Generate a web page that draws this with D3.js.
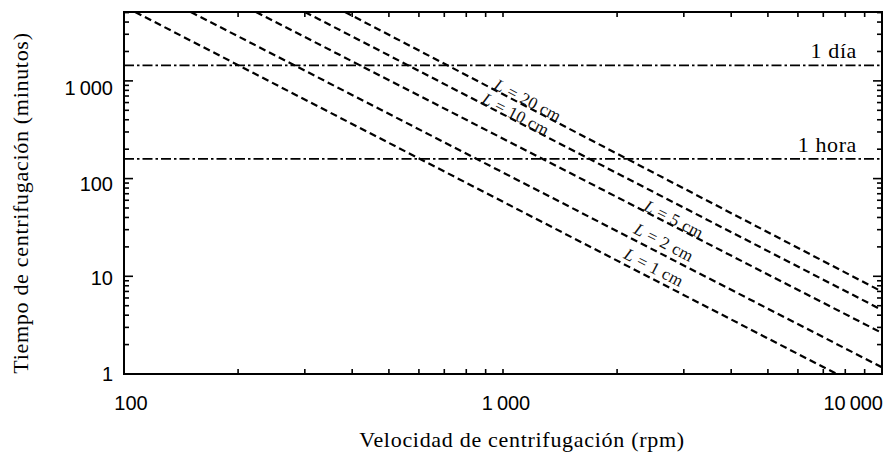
<!DOCTYPE html>
<html><head><meta charset="utf-8">
<script src="https://cdn.jsdelivr.net/npm/d3@7"></script>
<style>body{margin:0;background:#fff}svg{display:block}</style>
</head><body>
<svg id="chart" width="895" height="454"></svg>
<script>
// ---- data ----
const xTickValues = [100, 1000, 10000];
const xTickLabels = ["100", "1\u2009000", "10\u2009000"];
const yTickValues = [1, 10, 100, 1000];
const yTickLabels = ["1", "10", "100", "1\u2009000"];

const lengthsCm   = [1, 2, 5, 10, 20];
const lineNames   = ["1 cm", "2 cm", "5 cm", "10 cm", "20 cm"];
const rpmStart    = [107, 150, 223, 300, 383];
const timeStart   = [5070, 5070, 5070, 5070, 5070];
const rpmEnd      = [7600, 10000, 10000, 10000, 10000];
const timeEnd     = [1, 1.17, 2.63, 4.52, 6.96];
const labelRpm    = [2502, 2659, 2826, 1082, 1164];
const labelTime   = [12.4, 22.4, 38.6, 458, 637];

const refNames = ["1 día", "1 hora"];
const refTimes = [1440, 159];

const xTitle = "Velocidad de centrifugación (rpm)";
const yTitle = "Tiempo de centrifugación (minutos)";

// ---- layout ----
const L = 124, R = 882, T = 12, B = 374;
const svg = d3.select("#chart");
const x = d3.scaleLog().domain([100, 10000]).range([L, R]);
const y = d3.scaleLog().domain([1, 5070]).range([B, T]);

const serif = "'Liberation Serif','Times New Roman',serif";
const sans = "'Liberation Sans',Arial,sans-serif";

svg.append("defs").append("clipPath").attr("id", "clip")
  .append("rect").attr("x", L).attr("y", T).attr("width", R - L).attr("height", B - T);

// ticks (inward, mirrored on all sides)
const xt = x.ticks();
const yt = y.ticks();
const isMajor = v => Math.abs(Math.log10(v) - Math.round(Math.log10(v))) < 1e-9;
const g = svg.append("g").attr("stroke", "#000").attr("stroke-width", 1.6);
xt.forEach(v => {
  const px = x(v);
  g.append("line").attr("x1", px).attr("x2", px).attr("y1", B).attr("y2", B - 5);
  g.append("line").attr("x1", px).attr("x2", px).attr("y1", T).attr("y2", T + 5);
});
yt.forEach(v => {
  const py = y(v), len = isMajor(v) ? 9 : 5;
  g.append("line").attr("x1", L).attr("x2", L + len).attr("y1", py).attr("y2", py);
  g.append("line").attr("x1", R).attr("x2", R - len).attr("y1", py).attr("y2", py);
});

// reference horizontal lines
const ref = svg.append("g").attr("clip-path", "url(#clip)");
refTimes.forEach((t, i) => {
  ref.append("line").attr("x1", L).attr("x2", R).attr("y1", y(t)).attr("y2", y(t))
    .attr("stroke", "#000").attr("stroke-width", 1.6)
    .attr("stroke-dasharray", "10,3,2.5,3");
  svg.append("text").attr("x", 857).attr("y", y(t) - 7)
    .attr("text-anchor", "end").attr("font-family", serif).attr("font-size", 22)
    .attr("letter-spacing", 0.6).text(refNames[i]);
});

// dashed lines
const lineGen = d3.line().x(d => x(d[0])).y(d => y(d[1]));
const lg = svg.append("g").attr("clip-path", "url(#clip)");
lengthsCm.forEach((len, i) => {
  lg.append("path")
    .attr("d", lineGen([[rpmStart[i], timeStart[i]], [rpmEnd[i], timeEnd[i]]]))
    .attr("fill", "none").attr("stroke", "#000").attr("stroke-width", 2.2)
    .attr("stroke-dasharray", "7,4");
  const ang = Math.atan2(y(timeEnd[i]) - y(timeStart[i]), x(rpmEnd[i]) - x(rpmStart[i])) * 180 / Math.PI;
  const cx = x(labelRpm[i]), cy = y(labelTime[i]);
  const t = svg.append("text")
    .attr("transform", `translate(${cx},${cy}) rotate(${ang})`)
    .attr("text-anchor", "middle").attr("dominant-baseline", "central")
    .attr("font-family", serif).attr("font-size", 17).attr("letter-spacing", 0.4)
    .attr("fill", "#111");
  t.append("tspan").attr("font-style", "italic").text("L");
  t.append("tspan").text(" = " + lineNames[i]);
});

// frame
svg.append("rect").attr("x", L).attr("y", T).attr("width", R - L).attr("height", B - T)
  .attr("fill", "none").attr("stroke", "#000").attr("stroke-width", 2);

// x tick labels
const xDx = [7, 3, 0];
xTickValues.forEach((v, i) => {
  const last = i === xTickValues.length - 1;
  svg.append("text").attr("x", x(v) + xDx[i] + (last ? 1 : 0)).attr("y", 410)
    .attr("text-anchor", last ? "end" : "middle")
    .attr("font-family", sans).attr("font-size", 20).text(xTickLabels[i]);
});
// y tick labels
const yDy = [0, 2, 5, 7];
yTickValues.forEach((v, i) => {
  svg.append("text").attr("x", 113).attr("y", y(v) + yDy[i])
    .attr("text-anchor", "end").attr("dominant-baseline", "central")
    .attr("font-family", sans).attr("font-size", 20).text(yTickLabels[i]);
});

// axis titles
svg.append("text").attr("x", 522).attr("y", 447).attr("text-anchor", "middle")
  .attr("font-family", serif).attr("font-size", 22).attr("letter-spacing", 0.7).text(xTitle);
svg.append("text").attr("transform", "translate(28,203) rotate(-90)")
  .attr("text-anchor", "middle").attr("font-family", serif).attr("font-size", 22)
  .attr("letter-spacing", 0.7).text(yTitle);
</script>
</body></html>
